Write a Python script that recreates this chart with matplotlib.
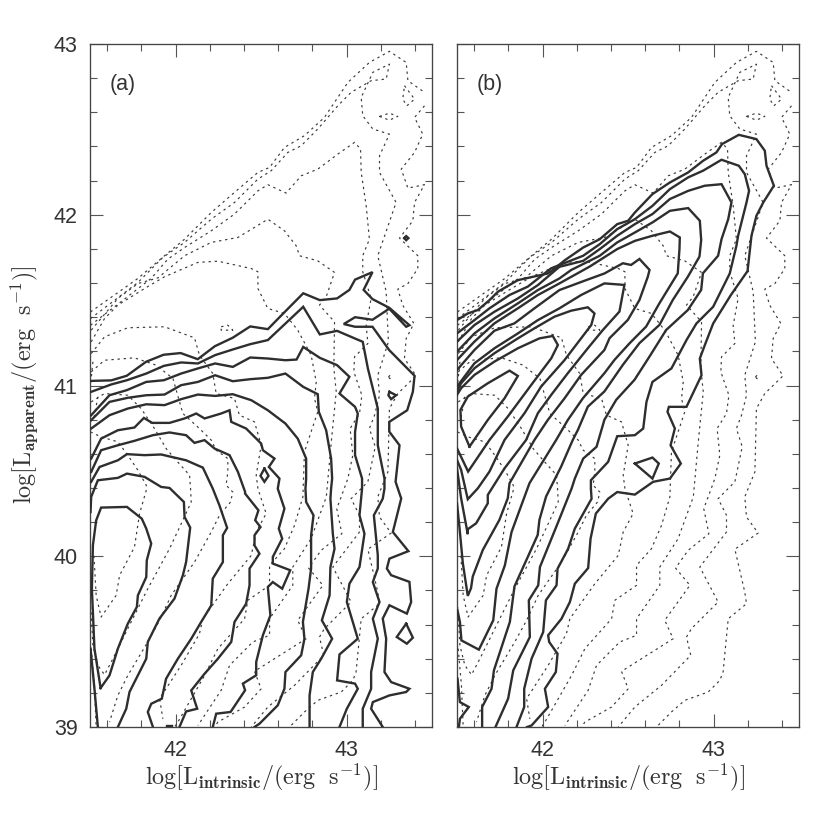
import matplotlib
matplotlib.use('Agg')
import matplotlib.pyplot as plt
from matplotlib.ticker import MultipleLocator

plt.rcParams['font.family'] = ['Liberation Sans', 'DejaVu Sans']
plt.rcParams['mathtext.fontset'] = 'cm'

# ---------- solid contours, panel (a): (log L_intrinsic, log L_apparent) ----------
A1 = [(41.507,41.027),(41.624,41.03),(41.715,41.057),(41.828,41.139),(41.93,41.18),(42.03,41.19),(42.13,41.154),(42.23,41.23),(42.335,41.28),(42.437,41.346),(42.54,41.33),(42.643,41.435),(42.747,41.54),(42.844,41.5),(42.945,41.51),(43.017,41.56),(43.05,41.62),(43.152,41.664),(43.10,41.56),(43.152,41.506),(43.25,41.455),(43.368,41.353),(43.349,41.344),(43.25,41.45),(43.152,41.385),(43.05,41.40),(42.984,41.36),(43.05,41.344),(43.152,41.344),(43.25,41.207),(43.398,41.057),(43.388,40.963),(43.355,40.855),(43.25,40.787),(43.25,40.73),(43.31,40.65),(43.287,40.436),(43.32,40.338),(43.271,40.142),(43.362,40.03),(43.251,39.986),(43.236,39.928),(43.261,39.889),(43.368,39.85),(43.378,39.732),(43.353,39.664),(43.251,39.713),(43.212,39.635),(43.232,39.517),(43.222,39.322),(43.261,39.263),(43.368,39.224),(43.349,39.205),(43.251,39.185),(43.154,39.146),(43.144,39.107),(43.212,39.0)]
A2 = [(41.507,40.963),(41.624,41.006),(41.716,41.031),(41.829,41.07),(41.932,41.115),(42.033,41.135),(42.131,41.129),(42.232,41.178),(42.335,41.211),(42.437,41.242),(42.54,41.266),(42.643,41.363),(42.747,41.461),(42.844,41.299),(42.945,41.32),(43.05,41.275),(43.095,41.256),(43.125,41.1),(43.183,40.865),(43.183,40.65),(43.222,40.455),(43.222,40.396),(43.212,40.337),(43.16,40.24),(43.183,40.006),(43.183,39.928),(43.154,39.849),(43.193,39.732),(43.154,39.634),(43.183,39.517),(43.144,39.322),(43.144,39.224),(43.095,39.107),(43.095,39.0)]
A3 = [(41.507,40.826),(41.614,40.943),(41.716,40.973),(41.829,41.021),(41.932,41.031),(42.033,41.07),(42.131,41.1),(42.232,41.129),(42.335,41.109),(42.437,41.164),(42.54,41.158),(42.643,41.148),(42.708,41.152),(42.747,41.226),(42.844,41.162),(42.945,41.119),(43.017,41.051),(42.959,40.953),(43.05,40.875),(43.066,40.836),(43.05,40.728),(43.05,40.592),(43.091,40.455),(43.091,40.396),(43.076,40.24),(43.105,40.132),(43.076,39.937),(43.017,39.839),(43.002,39.732),(43.066,39.517),(42.959,39.425),(42.945,39.273),(43.05,39.254),(43.066,39.224),(43.002,39.107),(42.959,39.0)]
A4 = [(41.507,40.797),(41.614,40.904),(41.721,40.928),(41.829,40.943),(41.936,40.947),(42.033,41.002),(42.131,41.021),(42.232,41.06),(42.335,41.025),(42.437,41.037),(42.54,41.045),(42.643,41.07),(42.747,40.992),(42.832,40.949),(42.838,40.846),(42.881,40.738),(42.91,40.572),(42.916,40.455),(42.91,40.396),(42.906,40.337),(42.92,40.132),(42.93,40.044),(42.906,39.937),(42.901,39.771),(42.856,39.625),(42.916,39.517),(42.852,39.4),(42.803,39.322),(42.784,39.185),(42.784,39.0)]
A5 = [(41.507,40.748),(41.614,40.826),(41.721,40.865),(41.829,40.89),(41.936,40.885),(42.033,40.92),(42.131,40.947),(42.232,40.939),(42.335,40.949),(42.443,40.914),(42.54,40.855),(42.643,40.777),(42.715,40.689),(42.764,40.572),(42.764,40.455),(42.76,40.396),(42.764,40.318),(42.807,40.24),(42.793,40.123),(42.793,39.928),(42.778,39.81),(42.745,39.615),(42.754,39.517),(42.735,39.42),(42.643,39.322),(42.637,39.224),(42.598,39.127),(42.491,39.019),(42.462,39.0)]
A6 = [(41.507,40.572),(41.565,40.689),(41.663,40.738),(41.76,40.754),(41.815,40.81),(41.864,40.781),(41.965,40.781),(42.053,40.807),(42.121,40.836),(42.17,40.807),(42.267,40.836),(42.316,40.855),(42.326,40.787),(42.413,40.748),(42.501,40.66),(42.511,40.621),(42.579,40.572),(42.546,40.523),(42.608,40.455),(42.598,40.396),(42.637,40.279),(42.604,40.162),(42.624,40.103),(42.569,39.996),(42.569,39.957),(42.671,39.918),(42.624,39.81),(42.569,39.849),(42.54,39.82),(42.555,39.654),(42.511,39.537),(42.472,39.381),(42.472,39.303),(42.394,39.254),(42.407,39.215),(42.322,39.088),(42.238,39.078),(42.218,39.0)]
A7 = [(41.507,40.494),(41.565,40.621),(41.663,40.65),(41.76,40.676),(41.868,40.709),(41.965,40.725),(42.062,40.709),(42.111,40.664),(42.17,40.68),(42.228,40.631),(42.316,40.592),(42.365,40.494),(42.407,40.377),(42.407,40.367),(42.485,40.269),(42.466,40.211),(42.497,40.171),(42.462,40.123),(42.462,40.064),(42.491,40.015),(42.433,39.928),(42.433,39.83),(42.413,39.722),(42.345,39.615),(42.326,39.498),(42.248,39.4),(42.17,39.312),(42.092,39.214),(42.127,39.107),(42.062,39.091),(42.023,39.0)]
A8 = [(41.507,40.436),(41.556,40.523),(41.663,40.562),(41.716,40.598),(41.819,40.592),(41.916,40.596),(42.062,40.562),(42.16,40.519),(42.218,40.396),(42.257,40.298),(42.302,40.166),(42.277,40.123),(42.277,39.966),(42.218,39.869),(42.209,39.712),(42.15,39.615),(42.092,39.517),(42.014,39.4),(41.945,39.283),(41.92,39.166),(41.858,39.136),(41.838,39.088),(41.868,39.0)]
A9 = [(41.503,40.259),(41.507,40.348),(41.546,40.445),(41.663,40.459),(41.716,40.484),(41.819,40.465),(41.916,40.406),(41.965,40.4),(42.049,40.318),(42.053,40.23),(42.086,40.168),(42.062,39.966),(42.043,39.888),(41.994,39.752),(41.906,39.635),(41.838,39.498),(41.829,39.4),(41.731,39.205),(41.712,39.107),(41.663,39.0)]
A10 = [(41.562,39.228),(41.614,39.302),(41.663,39.459),(41.721,39.605),(41.774,39.703),(41.78,39.771),(41.829,39.878),(41.832,39.976),(41.858,40.074),(41.829,40.162),(41.803,40.22),(41.716,40.289),(41.565,40.285),(41.536,40.21),(41.517,40.064),(41.511,39.81),(41.526,39.459),(41.562,39.228)]
A11 = [(41.503,39.459),(41.526,39.224),(41.546,39.0)]
A_I1 = [(42.52,40.514),(42.544,40.471),(42.52,40.436),(42.497,40.471),(42.52,40.514)]
A_I2 = [(43.338,41.863),(43.349,41.875),(43.362,41.863),(43.349,41.851),(43.338,41.863)]
A_I3 = [(43.251,40.963),(43.29,40.943),(43.261,40.92),(43.245,40.943),(43.251,40.963)]
A_I4 = [(43.349,39.605),(43.388,39.523),(43.353,39.488),(43.294,39.527),(43.349,39.605)]
A_I5 = [(41.95,39.005),(41.98,39.005)]

# ---------- solid contours, panel (b) ----------
B1 = [(41.5,41.383),(41.563,41.422),(41.622,41.442),(41.69,41.5),(41.739,41.549),(41.856,41.617),(42.031,41.656),(42.06,41.676),(42.131,41.734),(42.238,41.808),(42.335,41.857),(42.437,41.945),(42.501,41.965),(42.54,42.013),(42.643,42.121),(42.745,42.189),(42.852,42.248),(42.939,42.316),(43.017,42.365),(43.05,42.414),(43.148,42.468),(43.251,42.443),(43.3,42.375),(43.31,42.287),(43.353,42.17),(43.291,42.072),(43.251,41.994),(43.222,41.877),(43.199,41.67),(43.101,41.529),(42.998,41.363),(42.949,41.236),(42.92,41.158),(42.93,41.06),(42.842,40.875),(42.739,40.875),(42.731,40.846),(42.774,40.748),(42.749,40.65),(42.809,40.543),(42.745,40.455),(42.647,40.436),(42.54,40.361),(42.437,40.376),(42.384,40.337),(42.312,40.25),(42.281,40.103),(42.267,39.931),(42.189,39.839),(42.16,39.732),(42.111,39.634),(42.033,39.537),(42.039,39.498),(42.088,39.429),(42.078,39.322),(42.014,39.224),(42.033,39.117),(41.936,39.009),(41.91,39.0)]
B2 = [(41.5,41.305),(41.602,41.383),(41.69,41.452),(41.807,41.53),(41.914,41.579),(42.05,41.686),(42.238,41.76),(42.335,41.828),(42.437,41.916),(42.54,41.974),(42.643,42.052),(42.745,42.15),(42.852,42.219),(42.939,42.258),(43.047,42.322),(43.148,42.287),(43.183,42.238),(43.208,42.14),(43.193,42.072),(43.144,41.877),(43.134,41.818),(43.095,41.656),(42.998,41.461),(42.9,41.363),(42.842,41.266),(42.754,41.1),(42.643,41.021),(42.608,40.904),(42.589,40.748),(42.54,40.709),(42.437,40.703),(42.384,40.553),(42.283,40.445),(42.283,40.396),(42.287,40.337),(42.189,40.162),(42.15,40.044),(42.088,39.927),(42.082,39.83),(42.02,39.742),(42.004,39.556),(41.936,39.4),(41.893,39.224),(41.893,39.117),(41.848,39.0)]
B3 = [(41.5,41.257),(41.602,41.354),(41.719,41.432),(41.856,41.51),(41.973,41.588),(42.099,41.695),(42.238,41.73),(42.335,41.799),(42.437,41.877),(42.54,41.945),(42.643,42.004),(42.745,42.092),(42.852,42.14),(42.949,42.17),(43.047,42.179),(43.105,42.072),(43.086,41.974),(43.047,41.857),(43.027,41.76),(42.938,41.657),(42.928,41.56),(42.85,41.442),(42.723,41.325),(42.626,41.17),(42.538,41.033),(42.431,40.916),(42.362,40.799),(42.316,40.641),(42.238,40.572),(42.189,40.455),(42.17,40.396),(42.092,40.201),(41.985,39.937),(41.975,39.83),(41.92,39.742),(41.926,39.527),(41.829,39.332),(41.799,39.166),(41.725,39.0)]
B4 = [(41.5,41.198),(41.602,41.305),(41.719,41.393),(41.856,41.481),(41.973,41.559),(42.099,41.627),(42.167,41.676),(42.335,41.76),(42.437,41.838),(42.54,41.896),(42.643,41.955),(42.745,42.023),(42.852,42.039),(42.92,41.965),(42.928,41.852),(42.918,41.755),(42.85,41.637),(42.762,41.501),(42.684,41.355),(42.567,41.248),(42.47,41.121),(42.362,40.965),(42.265,40.876),(42.207,40.74),(42.177,40.681),(42.109,40.525),(42.021,40.35),(41.982,40.213),(41.972,40.125),(41.836,39.823),(41.809,39.615),(41.716,39.332),(41.702,39.224),(41.647,39.117),(41.647,39.0)]
B5 = [(41.5,41.149),(41.602,41.257),(41.719,41.364),(41.856,41.452),(41.973,41.53),(42.099,41.598),(42.275,41.696),(42.437,41.799),(42.54,41.847),(42.643,41.877),(42.745,41.902),(42.803,41.867),(42.801,41.8),(42.791,41.657),(42.684,41.482),(42.606,41.345),(42.509,41.247),(42.421,41.15),(42.362,41.072),(42.236,40.925),(42.148,40.798),(42.08,40.681),(41.924,40.428),(41.819,40.142),(41.78,39.947),(41.731,39.81),(41.712,39.625),(41.628,39.453),(41.526,39.507),(41.517,39.615),(41.503,39.683)]
B6 = [(41.5,41.091),(41.602,41.208),(41.719,41.321),(41.836,41.364),(41.953,41.452),(42.099,41.559),(42.255,41.617),(42.362,41.656),(42.47,41.716),(42.518,41.706),(42.567,41.741),(42.626,41.677),(42.616,41.637),(42.567,41.501),(42.499,41.384),(42.392,41.277),(42.362,41.208),(42.226,41.062),(42.129,40.925),(42.031,40.798),(41.953,40.681),(41.807,40.427),(41.797,40.34),(41.748,40.213),(41.651,40.037),(41.592,39.881),(41.582,39.813),(41.563,39.768),(41.534,39.96),(41.514,40.174),(41.5,40.31)]
B7 = [(41.5,40.994),(41.602,41.13),(41.719,41.218),(41.856,41.305),(41.973,41.383),(42.099,41.452),(42.226,41.53),(42.362,41.598),(42.479,41.589),(42.45,41.433),(42.353,41.325),(42.265,41.218),(42.148,41.072),(42.051,40.945),(41.973,40.838),(41.904,40.681),(41.778,40.515),(41.68,40.359),(41.68,40.31),(41.612,40.193),(41.563,40.158),(41.563,40.129),(41.524,40.34),(41.5,40.515)]
B8 = [(41.5,40.964),(41.524,41.013),(41.602,41.101),(41.719,41.189),(41.856,41.276),(41.953,41.335),(42.07,41.403),(42.167,41.438),(42.265,41.458),(42.304,41.422),(42.285,41.354),(42.129,41.149),(41.992,40.994),(41.895,40.838),(41.778,40.681),(41.69,40.496),(41.622,40.398),(41.563,40.334),(41.524,40.506),(41.5,40.564)]
B9 = [(41.5,40.945),(41.524,40.984),(41.602,41.062),(41.719,41.14),(41.856,41.218),(41.982,41.276),(42.06,41.29),(42.09,41.237),(42.051,41.159),(41.934,41.003),(41.797,40.818),(41.69,40.681),(41.565,40.496),(41.5,40.632)]
B10 = [(41.573,40.642),(41.68,40.798),(41.778,40.925),(41.856,41.056),(41.807,41.087),(41.68,41.013),(41.563,40.935),(41.52,40.857),(41.524,40.76),(41.573,40.642)]
B11 = [(41.503,39.283),(41.517,39.146),(41.569,39.117),(41.517,39.048),(41.511,39.0)]
B_I1 = [(42.54,40.543),(42.643,40.578),(42.68,40.543),(42.643,40.455),(42.54,40.543)]

# ---------- dotted contours, shared by both panels ----------
D1a = [(41.503,41.431),(41.78,41.627),(41.936,41.76),(42.053,41.857),(42.209,42.013),(42.345,42.131),(42.482,42.248),(42.55,42.277),(42.637,42.394),(42.754,42.463),(42.871,42.57),(43.008,42.775),(43.134,42.892),(43.251,42.957),(43.349,42.892),(43.359,42.785),(43.456,42.717)]
D1b = [(43.456,42.638),(43.398,42.57),(43.446,42.472),(43.398,42.365),(43.32,42.267),(43.359,42.156),(43.456,42.176),(43.398,42.072),(43.388,41.965),(43.31,41.863),(43.417,41.76),(43.417,41.685),(43.359,41.597),(43.3,41.564),(43.329,41.47),(43.394,41.363),(43.349,41.275),(43.339,41.158),(43.407,41.057),(43.3,40.953),(43.251,40.865),(43.245,40.611),(43.242,40.494),(43.183,40.348),(43.193,40.23),(43.261,40.136),(43.125,40.041),(43.183,39.79),(43.193,39.722),(43.086,39.634),(43.056,39.322),(43.037,39.273),(42.969,39.205),(42.832,39.156),(42.754,39.088),(42.667,39.0)]
D2 = [(41.503,41.392),(41.78,41.603),(41.926,41.75),(42.053,41.838),(42.209,41.974),(42.345,42.072),(42.482,42.209),(42.56,42.258),(42.657,42.365),(42.735,42.404),(42.832,42.502),(42.949,42.638),(43.027,42.717),(43.144,42.785),(43.232,42.795),(43.251,42.882),(43.154,42.834),(43.086,42.687),(43.095,42.58),(43.154,42.502),(43.251,42.472),(43.193,42.345),(43.193,42.248),(43.29,42.072),(43.183,41.76),(43.232,41.549),(43.245,41.256),(43.183,41.06),(43.193,40.943),(43.164,40.826),(43.134,40.748),(43.168,40.641),(43.125,40.436),(43.027,40.337),(43.076,40.24),(43.076,40.142),(42.92,39.937),(43.027,39.732),(42.871,39.576),(42.842,39.527),(42.867,39.42),(42.696,39.244),(42.54,39.117),(42.443,39.0)]
D3 = [(41.503,41.353),(41.858,41.627),(41.955,41.74),(42.053,41.808),(42.209,41.906),(42.345,42.004),(42.482,42.14),(42.54,42.176),(42.647,42.127),(42.735,42.228),(42.832,42.267),(42.949,42.355),(43.047,42.424),(43.082,42.385),(43.086,42.248),(43.115,42.053),(43.134,41.857),(43.095,41.76),(43.095,41.666),(43.144,41.51),(43.115,41.353),(43.125,41.246),(43.047,41.168),(43.043,41.08),(43.09,40.943),(43.076,40.836),(43.021,40.748),(43.037,40.592),(43.008,40.455),(42.969,40.348),(42.943,40.279),(42.973,40.132),(42.852,40.035),(42.778,39.931),(42.862,39.83),(42.715,39.625),(42.764,39.517),(42.462,39.326),(42.501,39.224),(42.404,39.117),(42.248,39.029),(42.228,39.0)]
D4 = [(41.507,41.324),(41.663,41.51),(41.78,41.597),(41.897,41.63),(42.053,41.76),(42.209,41.838),(42.365,41.867),(42.462,41.926),(42.54,41.974),(42.637,41.906),(42.706,41.818),(42.725,41.76),(42.832,41.73),(42.93,41.662),(42.881,41.519),(42.842,41.471),(42.93,41.373),(42.926,41.1),(42.94,40.963),(42.911,40.67),(42.882,40.348),(42.793,40.103),(42.686,39.937),(42.686,39.83),(42.55,39.634),(42.55,39.537),(42.452,39.498),(42.316,39.361),(42.267,39.215),(42.131,39.009)]
D5 = [(41.507,41.256),(41.585,41.392),(41.663,41.471),(41.819,41.568),(41.936,41.637),(42.131,41.721),(42.248,41.728),(42.443,41.685),(42.482,41.666),(42.482,41.568),(42.54,41.451),(42.637,41.422),(42.715,41.324),(42.793,41.178),(42.823,41.021),(42.813,40.924),(42.832,40.846),(42.754,40.611),(42.745,40.348),(42.696,40.181),(42.637,40.044),(42.55,39.947),(42.55,39.83),(42.423,39.742),(42.404,39.634),(42.248,39.459),(42.17,39.302),(42.014,39.029),(41.995,39.0)]
D6 = [(41.507,41.187),(41.585,41.285),(41.721,41.338),(41.936,41.344),(42.111,41.279),(42.14,41.178),(42.218,41.07),(42.238,40.953),(42.345,40.924),(42.374,40.826),(42.462,40.787),(42.501,40.65),(42.472,40.475),(42.482,40.396),(42.53,40.25),(42.472,40.142),(42.443,40.005),(42.306,39.839),(42.16,39.634),(42.14,39.546),(42.033,39.361),(41.907,39.166),(41.926,39.048)]
D7 = [(41.507,41.08),(41.585,41.148),(41.76,41.162),(41.887,41.119),(41.985,41.041),(42.043,40.836),(42.14,40.748),(42.209,40.68),(42.238,40.621),(42.306,40.572),(42.306,40.494),(42.296,40.416),(42.335,40.376),(42.322,40.318),(42.257,40.24),(42.209,40.142),(42.111,39.966),(41.975,39.771),(41.907,39.625),(41.838,39.498),(41.721,39.302),(41.663,39.185),(41.614,39.029)]
D8 = [(41.507,40.904),(41.585,40.953),(41.721,40.943),(41.799,40.865),(41.877,40.748),(41.945,40.631),(42.004,40.562),(42.082,40.475),(42.088,40.396),(42.092,40.318),(42.043,40.211),(41.965,40.044),(41.838,39.81),(41.721,39.576),(41.634,39.4),(41.585,39.306),(41.546,39.361),(41.517,39.478),(41.505,39.7)]
D9 = [(41.503,40.728),(41.565,40.699),(41.663,40.67),(41.721,40.592),(41.78,40.504),(41.829,40.416),(41.829,40.386),(41.79,40.25),(41.76,40.054),(41.673,39.888),(41.653,39.771),(41.565,39.644),(41.536,39.771),(41.523,40.005)]
D10 = [(41.507,39.459),(41.526,39.244),(41.536,39.0)]
D11 = [(41.517,41.139),(41.503,41.002)]
D12 = [(41.546,40.934),(41.523,40.807)]
D_L1 = [(43.339,42.756),(43.398,42.677),(43.353,42.638),(43.329,42.677),(43.339,42.756)]
D_L2 = [(43.193,42.576),(43.251,42.595),(43.3,42.576),(43.251,42.554),(43.193,42.576)]
D_L3 = [(43.245,41.05),(43.255,41.06),(43.262,41.05),(43.255,41.04),(43.245,41.05)]
D_L4 = [(42.267,41.344),(42.306,41.353),(42.335,41.324),(42.267,41.324),(42.267,41.344)]

solid_a = [A1,A2,A3,A4,A5,A6,A7,A8,A9,A10,A11,A_I1,A_I2,A_I3,A_I4,A_I5]
solid_b = [B1,B2,B3,B4,B5,B6,B7,B8,B9,B10,B11,B_I1]
dotted = [D1a,D1b,D2,D3,D4,D5,D6,D7,D8,D9,D10,D11,D12,D_L1,D_L2,D_L3,D_L4]

x_major = [42, 43]
y_major = [39, 40, 41, 42, 43]
panel_names = ['(a)', '(b)']

W = 830.0
fig = plt.figure(figsize=(8.3, 8.3), dpi=100, facecolor='white')
INK = '#333333'
lefts = [90, 457]
for i, (left, solid) in enumerate(zip(lefts, [solid_a, solid_b])):
    ax = fig.add_axes([left/W, 1-727/W, 342/W, 683/W])
    ax.set_xlim(41.5, 43.5)
    ax.set_ylim(39, 43)
    for c in dotted:
        ax.plot([p[0] for p in c], [p[1] for p in c], color='#3a3a3a', lw=0.85,
                dashes=(2.0, 3.2), dash_capstyle='butt', zorder=2)
    for c in solid:
        ax.plot([p[0] for p in c], [p[1] for p in c], color='#2e2e2e', lw=1.7,
                solid_joinstyle='miter', zorder=3)
    ax.set_xticks(x_major)
    ax.set_yticks(y_major)
    ax.xaxis.set_minor_locator(MultipleLocator(0.2))
    ax.yaxis.set_minor_locator(MultipleLocator(0.2))
    ax.tick_params(which='major', direction='in', length=9.5, width=0.8, color='#555555',
                   top=True, right=True, labelsize=15.5, labelcolor=INK, pad=9)
    ax.tick_params(which='minor', direction='in', length=4.8, width=0.8, color='#555555',
                   top=True, right=True)
    if i == 1:
        ax.tick_params(axis='y', which='both', labelleft=False)
    for s in ax.spines.values():
        s.set_linewidth(0.95)
        s.set_color('#444444')
    ax.text(0.058, 0.940, panel_names[i], transform=ax.transAxes, fontsize=15.5,
            color=INK, ha='left', va='center')

xlab = r'$\mathrm{log[L_{\mathbf{intrinsic}}/(erg\ \ s^{-1})]}$'
ylab = r'$\mathrm{log[L_{\mathbf{apparent}}/(erg\ \ s^{-1})]}$'
fig.text(261/W, 1-777/W, xlab, fontsize=17.4, color=INK, ha='center', va='center')
fig.text(628/W, 1-777/W, xlab, fontsize=17.4, color=INK, ha='center', va='center')
fig.text(25/W, 1-385/W, ylab, fontsize=17.4, color=INK, ha='center', va='center', rotation=90)

fig.savefig('out.png', dpi=100)
